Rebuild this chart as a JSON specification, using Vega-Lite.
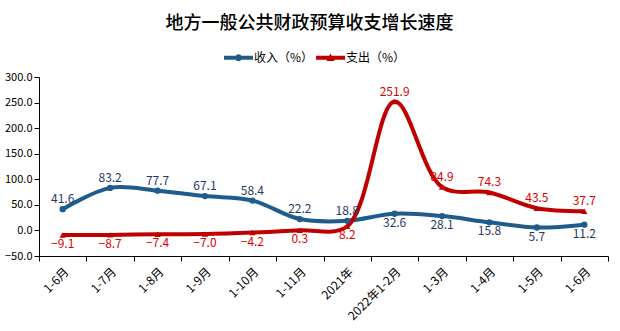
{
  "$schema": "https://vega.github.io/schema/vega-lite/v6.json",
  "width": 569,
  "height": 179,
  "autosize": {"type": "none"},
  "padding": {"left": 39, "top": 77, "right": 12, "bottom": 75},
  "background": "white",
  "title": {
    "text": "地方一般公共财政预算收支增长速度",
    "font": "Noto Sans CJK SC",
    "fontSize": 18,
    "fontWeight": 500,
    "color": "#000000",
    "anchor": "middle",
    "dx": -14,
    "offset": 10
  },
  "config": {
    "view": {"stroke": null},
    "font": "Noto Sans CJK SC",
    "axis": {
      "grid": false,
      "domainColor": "#000000",
      "tickColor": "#000000",
      "labelColor": "#000000",
      "labelFont": "Noto Sans CJK SC",
      "labelFontSize": 11,
      "tickSize": 5,
      "domainWidth": 1,
      "title": null
    }
  },
  "data": {
    "values": [
      {"order": 1, "period": "1-6月", "series": "收入（%）", "value": 41.6},
      {"order": 2, "period": "1-7月", "series": "收入（%）", "value": 83.2},
      {"order": 3, "period": "1-8月", "series": "收入（%）", "value": 77.7},
      {"order": 4, "period": "1-9月", "series": "收入（%）", "value": 67.1},
      {"order": 5, "period": "1-10月", "series": "收入（%）", "value": 58.4},
      {"order": 6, "period": "1-11月", "series": "收入（%）", "value": 22.2},
      {"order": 7, "period": "2021年", "series": "收入（%）", "value": 18.8},
      {"order": 8, "period": "2022年1-2月", "series": "收入（%）", "value": 32.6},
      {"order": 9, "period": "1-3月", "series": "收入（%）", "value": 28.1},
      {"order": 10, "period": "1-4月", "series": "收入（%）", "value": 15.8},
      {"order": 11, "period": "1-5月", "series": "收入（%）", "value": 5.7},
      {"order": 12, "period": "1-6月\u200b", "series": "收入（%）", "value": 11.2},
      {"order": 1, "period": "1-6月", "series": "支出（%）", "value": -9.1},
      {"order": 2, "period": "1-7月", "series": "支出（%）", "value": -8.7},
      {"order": 3, "period": "1-8月", "series": "支出（%）", "value": -7.4},
      {"order": 4, "period": "1-9月", "series": "支出（%）", "value": -7.0},
      {"order": 5, "period": "1-10月", "series": "支出（%）", "value": -4.2},
      {"order": 6, "period": "1-11月", "series": "支出（%）", "value": 0.3},
      {"order": 7, "period": "2021年", "series": "支出（%）", "value": 8.2},
      {"order": 8, "period": "2022年1-2月", "series": "支出（%）", "value": 251.9},
      {"order": 9, "period": "1-3月", "series": "支出（%）", "value": 84.9},
      {"order": 10, "period": "1-4月", "series": "支出（%）", "value": 74.3},
      {"order": 11, "period": "1-5月", "series": "支出（%）", "value": 43.5},
      {"order": 12, "period": "1-6月\u200b", "series": "支出（%）", "value": 37.7}
    ]
  },
  "encoding": {
    "x": {
      "field": "period",
      "type": "ordinal",
      "sort": {"field": "order"},
      "scale": {"type": "band", "paddingInner": 0, "paddingOuter": 0},
      "axis": {"labelAngle": -45, "tickBand": "extent", "labelPadding": 5, "labelFontSize": 12}
    },
    "y": {
      "field": "value",
      "type": "quantitative",
      "scale": {"domain": [-50, 300], "nice": false, "zero": false},
      "axis": {"values": [-50, 0, 50, 100, 150, 200, 250, 300], "format": ".1f", "labelPadding": 2}
    }
  },
  "layer": [
    {
      "mark": {"type": "line", "interpolate": "catmull-rom", "strokeWidth": 4},
      "encoding": {
        "color": {
          "field": "series",
          "type": "nominal",
          "scale": {"domain": ["收入（%）", "支出（%）"], "range": ["#1F5C8B", "#C00000"]},
          "legend": {
            "orient": "none",
            "direction": "horizontal",
            "legendX": 185,
            "legendY": -34,
            "title": null,
            "labelFontSize": 12,
            "labelColor": "#000000",
            "symbolSize": 841,
            "labelOffset": 1,
            "columnPadding": 2,
            "symbolType": "M-1,-0.13H1V0.13H-1Z",
            "encode": {
              "symbols": {
                "update": {
                  "shape": {"signal": "datum.value === '收入（%）' ? 'M-1,-0.13H1V0.13H-1Z M0.24,0A0.24,0.24 0 1 1 -0.24,0A0.24,0.24 0 1 1 0.24,0Z' : 'M-1,-0.13H1V0.13H-1Z M0,-0.3L0.28,0.22L-0.28,0.22Z'"},
                  "fill": {"scale": "color", "field": "value"},
                  "stroke": {"value": "transparent"},
                  "strokeWidth": {"value": 0},
                  "opacity": {"value": 1}
                }
              }
            }
          }
        }
      }
    },
    {
      "mark": {"type": "point", "filled": true, "opacity": 1},
      "encoding": {
        "color": {"field": "series", "type": "nominal"},
        "shape": {"condition": {"test": "datum.series === '支出（%）'", "value": "triangle-up"}, "value": "circle"},
        "size": {"value": 40}
      }
    },
    {
      "transform": [
        {"filter": "(datum.series === '收入（%）' && datum.order <= 7) || (datum.series === '支出（%）' && datum.order > 7)"}
      ],
      "mark": {"type": "text", "baseline": "bottom", "dy": -3, "fontSize": 12, "font": "Noto Sans CJK SC"},
      "encoding": {
        "text": {"field": "value", "type": "quantitative", "format": ".1f"},
        "color": {"condition": {"test": "datum.series === '收入（%）'", "value": "#1F3864"}, "value": "#E00000"}
      }
    },
    {
      "transform": [
        {"filter": "(datum.series === '收入（%）' && datum.order > 7) || (datum.series === '支出（%）' && datum.order <= 7)"}
      ],
      "mark": {"type": "text", "baseline": "top", "dy": 4, "fontSize": 12, "font": "Noto Sans CJK SC"},
      "encoding": {
        "text": {"field": "value", "type": "quantitative", "format": ".1f"},
        "color": {"condition": {"test": "datum.series === '收入（%）'", "value": "#1F3864"}, "value": "#E00000"}
      }
    }
  ]
}
